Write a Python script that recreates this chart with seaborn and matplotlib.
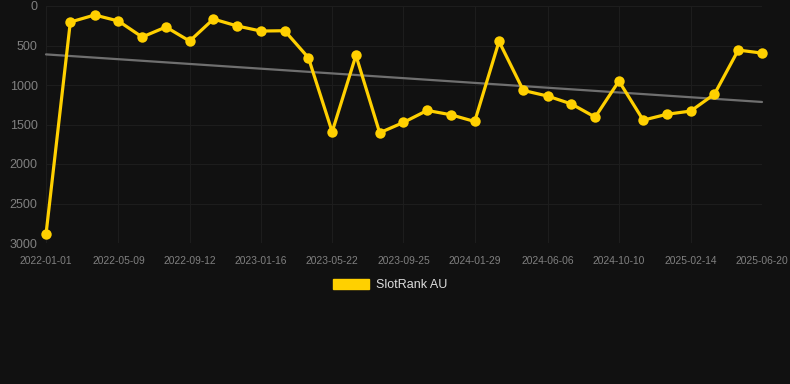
import numpy as np
import pandas as pd
import matplotlib
matplotlib.use("Agg")
import matplotlib.pyplot as plt
import matplotlib.dates as mdates
from matplotlib.patches import Patch
import seaborn as sns

dates = ["2022-01-01", "2022-02-13", "2022-03-28", "2022-05-09", "2022-06-20", "2022-08-01",
         "2022-09-12", "2022-10-24", "2022-12-05", "2023-01-16", "2023-02-27", "2023-04-10",
         "2023-05-22", "2023-07-03", "2023-08-14", "2023-09-25", "2023-11-06", "2023-12-18",
         "2024-01-29", "2024-03-12", "2024-04-24", "2024-06-06", "2024-07-18", "2024-08-29",
         "2024-10-10", "2024-11-22", "2025-01-03", "2025-02-14", "2025-03-28", "2025-05-09",
         "2025-06-20"]
ranks = [2890, 203, 114, 190, 393, 266, 444, 165, 253, 317, 313, 655,
         1593, 625, 1605, 1474, 1322, 1377, 1462, 448, 1069, 1140, 1240, 1407,
         950, 1445, 1370, 1330, 1115, 558, 596]
tick_dates = ["2022-01-01", "2022-05-09", "2022-09-12", "2023-01-16", "2023-05-22", "2023-09-25",
              "2024-01-29", "2024-06-06", "2024-10-10", "2025-02-14", "2025-06-20"]
y_ticks = [0, 500, 1000, 1500, 2000, 2500, 3000]
series_name = "SlotRank AU"

BG = "#111111"
YELLOW = "#FFD000"

df = pd.DataFrame({"date": pd.to_datetime(dates), "rank": ranks})

sns.set_theme(style="dark")
plt.rcParams["font.family"] = ["Liberation Sans", "DejaVu Sans"]

fig = plt.figure(figsize=(7.9, 3.84), dpi=100, facecolor=BG)
ax = fig.add_axes([46/790, 1-243/384, 716/790, 237/384])
ax.set_facecolor(BG)

# trend line (linear fit)
xnum = mdates.date2num(df["date"])
k, b = np.polyfit(xnum, df["rank"], 1)
trend = pd.DataFrame({"date": df["date"].iloc[[0, -1]], "rank": k*xnum[[0, -1]] + b})
sns.lineplot(data=trend, x="date", y="rank", ax=ax, color="#6f6f6f", linewidth=1.6, zorder=2)

sns.lineplot(data=df, x="date", y="rank", ax=ax, color=YELLOW, linewidth=2.3,
             marker="o", markersize=7.5, markeredgewidth=0, zorder=3)
for ln in ax.lines:
    ln.set_clip_on(False)

ax.set_xlim(df["date"].iloc[0], df["date"].iloc[-1])
ax.set_ylim(3000, 0)
ax.set_yticks(y_ticks)
ax.set_yticklabels([str(v) for v in y_ticks])
tds = pd.to_datetime(tick_dates)
ax.set_xticks(tds)
ax.set_xticklabels(tick_dates)
ax.set_xlabel("")
ax.set_ylabel("")
ax.tick_params(axis="y", colors="#808080", labelsize=9, length=0, pad=6)
ax.tick_params(axis="x", colors="#808080", labelsize=7.4, length=0, pad=9)
ax.grid(True, color="#1d1d1d", linewidth=0.8)
for s in ax.spines.values():
    s.set_visible(False)

handle = Patch(facecolor=YELLOW, edgecolor=YELLOW)
leg = fig.legend([handle], [series_name], loc="center", bbox_to_anchor=(390/790, 1-285/384),
                 frameon=False, handlelength=2.9, handleheight=0.9, handletextpad=0.5,
                 fontsize=9, labelcolor="#dddddd")

fig.savefig("out.png", dpi=100, facecolor=BG)
